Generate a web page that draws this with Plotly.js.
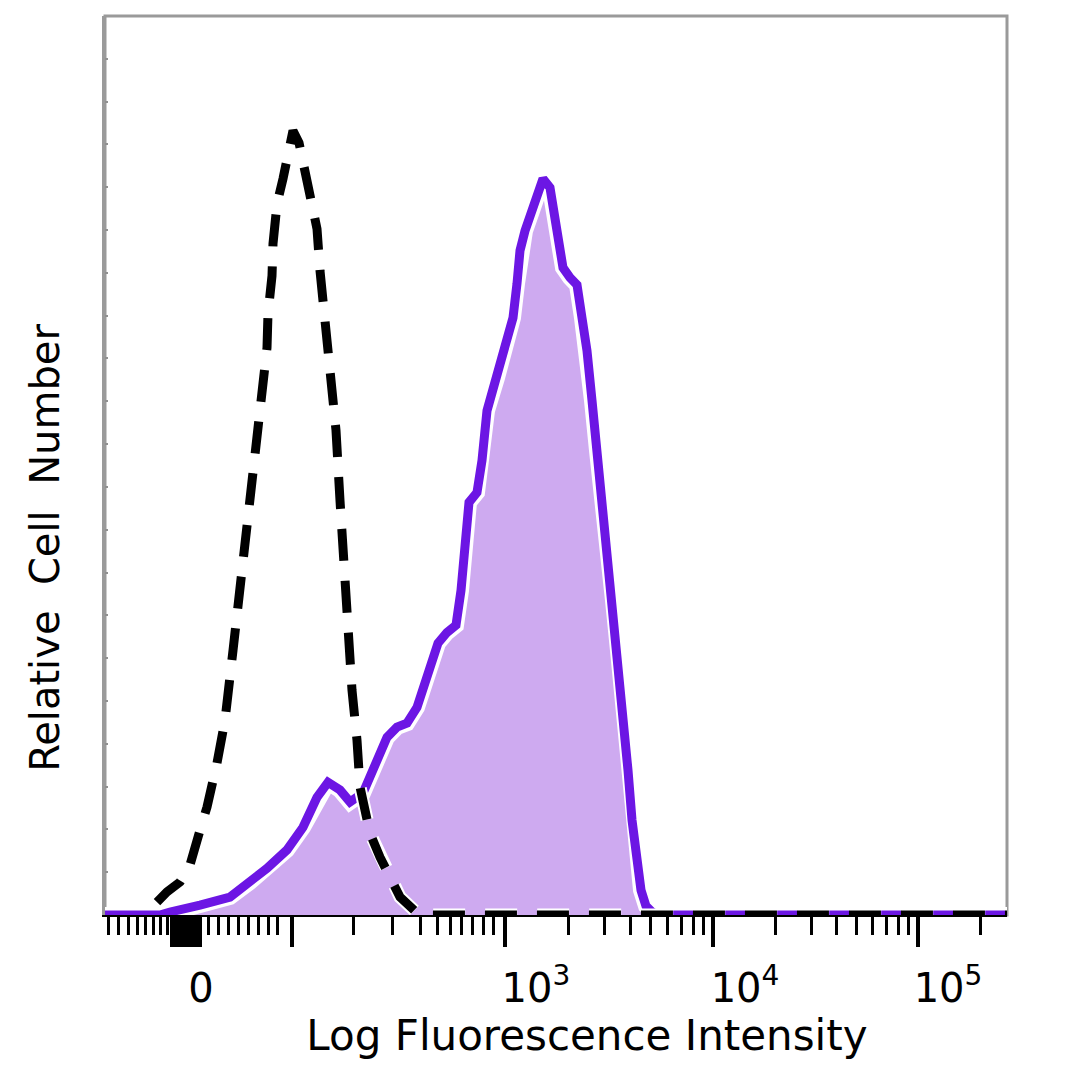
<!DOCTYPE html>
<html>
<head>
<meta charset="utf-8">
<script src="https://cdn.plot.ly/plotly-3.0.1.min.js"></script>
<style>html,body{margin:0;padding:0;background:#fff;}#chart{width:1080px;height:1080px;}</style>
</head>
<body>
<div id="chart"></div>
<script>
// Display channel scale (biexponential-like display units, 0..902)
const stainedX = [0,55,65,80,95,125,145,162,182,198,212,223,235,245,258,272,282,292,302,312,323,333,342,351,356,360,364,372,377,382,392,402,408,412,415,420,427,432,438,445,452,458,465,472,477,482,487,492,497,503,508,513,518,523,527,531,536,541,548,557,902];
const stainedY = [0,0,0.7,1.4,2.3,4.2,7.7,10.9,15.2,20.5,27.5,31.0,29.2,26.4,28.5,35.5,41.5,43.9,44.8,48.5,56.0,63.5,66.0,67.7,75.8,89.8,96.4,98.7,106.2,117.8,125.5,133.5,139.5,147.5,155.2,159.8,164.5,169.2,172.0,169.9,159.1,151.2,148.9,147.2,139.5,131.8,120.2,108.5,94.5,82.8,73.5,61.8,47.8,33.8,22.2,12.8,5.8,2.1,0.5,0,0];

const controlX = [52,62,75,85,95,102,112,120,128,135,142,148,153,158,162,163,167,168,172,178,185,188,194,197,205,212,215,218,223,227,231,235,239,243,247,252,255,265,275,295,312,325,902];
const controlY = [3.0,5.4,7.7,11.7,19.8,25.2,35.5,45.5,61.8,75.8,89.8,103.8,115.5,123.2,132.5,140.5,149.3,156.8,166.1,172.0,178.5,183.2,180.4,176.6,166.8,160.3,150.5,143.5,134.2,127.2,113.2,96.8,80.5,66.5,52.5,40.8,29.9,19.1,13.5,4.2,0.5,0,0];

// Axis ticks (display channel positions)
const majorTickPos = [67,71,75,79,83,87,91,95,187,400,608,813];
const minorTickPos = [3,13,23,32,40,48,55,62,103,113,123,133,143,153,163,172,248,287,315,332,345,356,367,378,388,463,499,525,545,562,576,588,598,670,706,731,751,767,781,793,803,875];
const labelPos = [96,431,640,843];
const labelText = ['0','10<sup>3</sup>','10<sup>4</sup>','10<sup>5</sup>'];

const purple = 'rgb(108,22,228)';
const lavender = 'rgb(206,170,240)';
const font = 'DejaVu Sans, sans-serif';

const traces = [
  {x: stainedX, y: stainedY, type: 'scatter', mode: 'lines', fill: 'tozeroy',
   fillcolor: lavender, line: {color: 'white', width: 16}, hoverinfo: 'skip', showlegend: false},
  {x: stainedX, y: stainedY, type: 'scatter', mode: 'lines',
   line: {color: purple, width: 9}, hoverinfo: 'skip', showlegend: false},
  {x: controlX, y: controlY, type: 'scatter', mode: 'lines',
   line: {color: 'white', width: 13, dash: '32px,20px'}, hoverinfo: 'skip', showlegend: false},
  {x: controlX, y: controlY, type: 'scatter', mode: 'lines',
   line: {color: 'black', width: 9, dash: '32px,20px'}, hoverinfo: 'skip', showlegend: false},
  {x: [500], y: [0], xaxis: 'x2', yaxis: 'y2', type: 'scatter', mode: 'markers',
   marker: {opacity: 0}, hoverinfo: 'skip', showlegend: false}
];

const layout = {
  width: 1080, height: 1080,
  margin: {l: 105, r: 73, t: 16, b: 165},
  paper_bgcolor: 'white', plot_bgcolor: 'rgba(0,0,0,0)',
  showlegend: false,
  font: {family: font, color: 'black'},
  xaxis: {
    domain: [0, 1], range: [0, 902], anchor: 'y',
    showgrid: false, zeroline: false,
    showline: true, linecolor: 'black', linewidth: 2,
    tickmode: 'array', tickvals: majorTickPos, ticks: 'outside', ticklen: 30, tickwidth: 4, tickcolor: 'black',
    showticklabels: false,
    minor: {tickmode: 'array', tickvals: minorTickPos, ticks: 'outside', ticklen: 18, tickwidth: 3, tickcolor: 'black', showgrid: false}
  },
  yaxis: {
    domain: [0, 1], range: [0, 210], anchor: 'x',
    showgrid: false, zeroline: false,
    showline: true, linecolor: '#9a9a9a', linewidth: 3,
    tickmode: 'linear', tick0: 0, dtick: 10, ticks: 'inside', ticklen: 3, tickwidth: 2, tickcolor: '#909090',
    showticklabels: false
  },
  xaxis2: {
    domain: [0.0687, 1], range: [62, 902], anchor: 'y2',
    showgrid: false, zeroline: false, showline: false,
    tickmode: 'array', tickvals: labelPos, ticktext: labelText, ticks: '',
    ticklabelstandoff: 46,
    tickfont: {family: font, size: 40, color: 'black'},
    title: {text: 'Log Fluorescence Intensity', font: {family: font, size: 42, color: 'black'}, standoff: 0}
  },
  yaxis2: {
    domain: [0, 0.8165], range: [0, 1], anchor: 'free', position: 0,
    showgrid: false, zeroline: false, showline: false, ticks: '', showticklabels: false,
    title: {text: 'Relative  Cell  Number', font: {family: font, size: 40, color: 'black'}, standoff: 31}
  },
  shapes: [
    {type: 'rect', xref: 'paper', yref: 'paper', x0: 0, x1: 1, y0: 0, y1: 1,
     line: {color: '#9a9a9a', width: 3}, layer: 'below'}
  ]
};

Plotly.newPlot('chart', traces, layout, {staticPlot: true, displayModeBar: false});
</script>
</body>
</html>
